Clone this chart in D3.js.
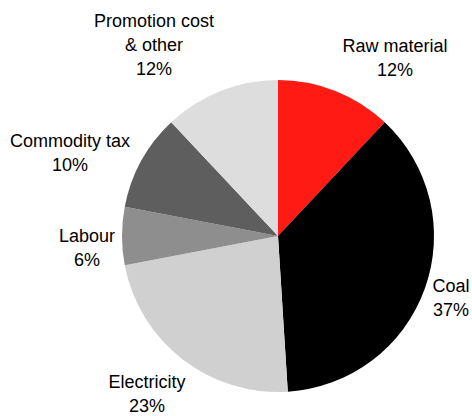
<!DOCTYPE html>
<html>
<head>
<meta charset="utf-8">
<script src="https://cdn.jsdelivr.net/npm/d3@7"></script>
<style>
  html, body { margin: 0; padding: 0; background: #fff; }
  svg { display: block; }
  text { font-family: "Liberation Sans", Arial, sans-serif; font-size: 18px; fill: #000; }
</style>
</head>
<body>
<svg id="chart" width="472" height="416"></svg>
<script>
// Cost breakdown, clockwise from 12 o'clock
const categories = ["Raw material", "Coal", "Electricity", "Labour", "Commodity tax", "Promotion cost\n& other"];
const shares = [12, 37, 23, 6, 10, 12];
const colors = ["#ff1a14", "#000000", "#d0d0d0", "#8e8e8e", "#5e5e5e", "#dddddd"];
// Label anchor points (centre x, first baseline y)
const labelPos = [[395, 52], [451, 292], [147, 388], [87, 242], [70, 147], [154, 27]];

const width = 472, height = 416;
const cx = 278, cy = 236, radius = 156;
const lineHeight = 24;

const svg = d3.select("#chart");
const g = svg.append("g").attr("transform", `translate(${cx},${cy})`);

const pie = d3.pie().sort(null).value(d => d.value);
const arc = d3.arc().innerRadius(0).outerRadius(radius);

const data = categories.map((c, i) => ({ name: c, value: shares[i], color: colors[i], pos: labelPos[i] }));

g.selectAll("path")
  .data(pie(data))
  .join("path")
  .attr("d", arc)
  .attr("fill", d => d.data.color);

const labels = svg.append("g");
data.forEach(d => {
  const lines = d.name.split("\n").concat([d.value + "%"]);
  const t = labels.append("text")
    .attr("text-anchor", "middle")
    .attr("x", d.pos[0])
    .attr("y", d.pos[1]);
  lines.forEach((ln, j) => {
    t.append("tspan")
      .attr("x", d.pos[0])
      .attr("dy", j === 0 ? 0 : lineHeight)
      .text(ln);
  });
});
</script>
</body>
</html>
